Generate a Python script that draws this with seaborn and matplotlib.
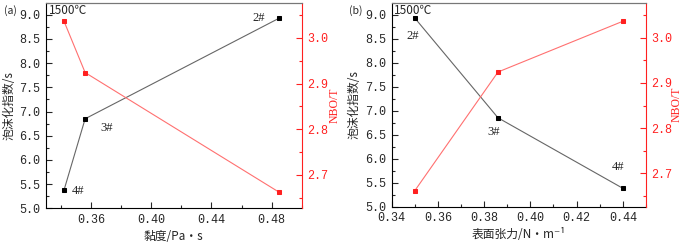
import numpy as np
import pandas as pd
import matplotlib
matplotlib.use('Agg')
import matplotlib.pyplot as plt
from matplotlib.ticker import MultipleLocator, FormatStrFormatter
import seaborn as sns

# data (samples 2#, 3#, 4#)
samples = ['2#', '3#', '4#']
viscosity = [0.485, 0.356, 0.342]         # Pa*s
surface_tension = [0.350, 0.386, 0.440]   # N/m
foam_index = [8.93, 6.85, 5.38]           # s
nbo_t = [2.662, 2.924, 3.036]

# label placement (data coords) for the sample tags
tag_pos_a = [(0.4715, 8.93), (0.370, 6.66), (0.3515, 5.35)]
tag_pos_b = [(0.349, 8.55), (0.3839, 6.55), (0.4379, 5.82)]

sns.set_style('ticks')
cjk = ['Noto Sans CJK SC', 'DejaVu Sans']
plt.rcParams['font.family'] = cjk
tickfont = 'Liberation Mono'
red = '#ff2020'

df = pd.DataFrame({'sample': samples, 'visc': viscosity, 'st': surface_tension,
                   'foam': foam_index, 'nbo': nbo_t})

fig = plt.figure(figsize=(6.85, 2.45), dpi=100)
ax_a = fig.add_axes([0.0672, 0.150, 0.3733, 0.839])
ax_b = fig.add_axes([0.5718, 0.157, 0.3712, 0.832])


def draw(ax, xcol, xlim, xmaj, xmin, xlabel, tags, panel, rlab_x):
    d = df.sort_values(xcol)
    sns.lineplot(data=d, x=xcol, y='foam', ax=ax, color='#666666', lw=0.8,
                 marker='s', markersize=3.3, markerfacecolor='black',
                 markeredgecolor='black', sort=False)
    ax2 = ax.twinx()
    sns.lineplot(data=d, x=xcol, y='nbo', ax=ax2, color='#ff7070', lw=0.8,
                 marker='s', markersize=3.3, markerfacecolor=red,
                 markeredgecolor=red, sort=False)
    ax.set_xlim(*xlim)
    ax.set_ylim(5.0, 9.25)
    ax2.set_ylim(2.627, 3.077)
    ax.xaxis.set_major_locator(MultipleLocator(xmaj))
    ax.xaxis.set_minor_locator(MultipleLocator(xmin))
    ax.xaxis.set_major_formatter(FormatStrFormatter('%.2f'))
    ax.yaxis.set_major_locator(MultipleLocator(0.5))
    ax.yaxis.set_minor_locator(MultipleLocator(0.25))
    ax.yaxis.set_major_formatter(FormatStrFormatter('%.1f'))
    ax2.yaxis.set_major_locator(MultipleLocator(0.1))
    ax2.yaxis.set_minor_locator(MultipleLocator(0.05))
    ax2.yaxis.set_major_formatter(FormatStrFormatter('%.1f'))

    ax.tick_params(which='both', direction='in', top=False, right=False,
                   labelsize=8.5, pad=4, width=0.8)
    ax.tick_params(which='major', length=4)
    ax.tick_params(which='minor', length=2)
    ax2.tick_params(which='both', direction='in', colors=red, labelsize=8.5,
                    pad=4, width=0.8)
    ax2.tick_params(which='major', length=4)
    ax2.tick_params(which='minor', length=2)
    for lab in ax.get_xticklabels() + ax.get_yticklabels() + ax2.get_yticklabels():
        lab.set_family(tickfont)

    for s in ['left', 'bottom']:
        ax.spines[s].set_color('black')
        ax.spines[s].set_linewidth(0.8)
    ax.spines['top'].set_color('#777777')
    ax.spines['top'].set_linewidth(0.8)
    ax2.spines['top'].set_color('#777777')
    ax2.spines['right'].set_color(red)
    ax2.spines['right'].set_linewidth(0.8)
    ax2.spines['left'].set_visible(False)
    ax2.spines['bottom'].set_visible(False)
    ax.spines['right'].set_visible(False)

    ax.set_xlabel(xlabel, fontsize=8.5, labelpad=3)
    ax.set_ylabel('泡沫化指数/s', fontsize=8.5, labelpad=3)
    ax2.set_ylabel('NBO/T', fontsize=8.5, color=red, family='Liberation Serif')
    ax2.yaxis.set_label_coords(rlab_x, 0.5)

    for t, (tx, ty) in zip(samples, tags):
        ax.text(tx, ty, t, fontsize=9, ha='center', va='center', family='Liberation Serif')

    ax.text(0.01, 0.995, '1500℃', transform=ax.transAxes, fontsize=8.5,
            ha='left', va='top', family=cjk)
    fig.text(ax.get_position().x0 - 0.062, 0.955, panel, fontsize=7.5,
             ha='left', va='center', family=cjk)
    return ax2


draw(ax_a, 'visc', (0.33, 0.50), 0.04, 0.02, '黏度/Pa•s', tag_pos_a, '(a)', 1.105)
draw(ax_b, 'st', (0.34, 0.45), 0.02, 0.01, '表面张力/N•m⁻¹', tag_pos_b, '(b)', 1.096)

fig.savefig('out.png', dpi=100)
